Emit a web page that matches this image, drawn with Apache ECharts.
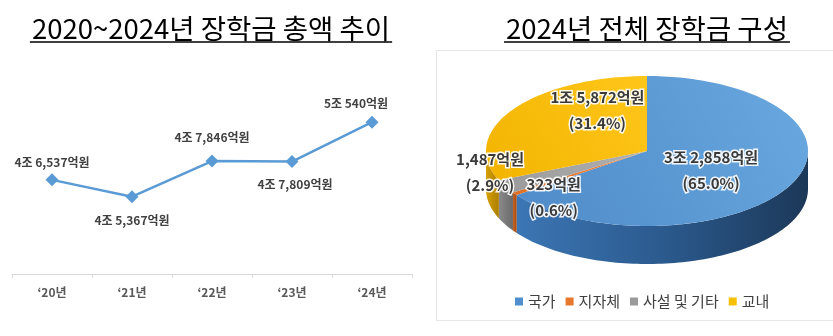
<!DOCTYPE html>
<html>
<head>
<meta charset="utf-8">
<script src="https://cdn.jsdelivr.net/npm/echarts@6/dist/echarts.min.js"></script>
<style>
  html, body { margin: 0; padding: 0; background: #ffffff; }
  #chart { width: 833px; height: 336px; }
</style>
</head>
<body>
<div id="chart"></div>
<script>
// ---- data (amounts in 억원) ----
const years = ['‘20년', '‘21년', '‘22년', '‘23년', '‘24년'];
const totals = [46537, 45367, 47846, 47809, 50540];

const sources = ['국가', '지자체', '사설 및 기타', '교내'];
const sourceAmounts = [32858, 323, 1487, 15872];

// ---- styling ----
const FONT = "'Noto Sans CJK KR', 'Noto Sans', sans-serif";
const lineLabelPos = ['top', 'bottom', 'top', 'bottom', 'top'];
const lineLabelDist = [5, 11, 11, 10, 6];
const lineLabelShift = [[0, 0], [0, 0], [0, 0], [3, 0], [-16, 0]];

const topColors = [
  ['#6AA8E0', '#4E8BC8'],
  ['#F08A44', '#E06F22'],
  ['#B0B0B0', '#9A9A9A'],
  ['#FFC61A', '#F2B400']
];
const sideColors = [
  ['#3C76B4', '#2B5A8E', '#1C3858'],
  ['#C8651F', '#B5561A', '#A04A14'],
  ['#8A8A8A', '#7A7A7A', '#6A6A6A'],
  ['#D6A000', '#C28F00', '#AE7F00']
];
const legendColors = ['#4F8FCF', '#E8772E', '#9A9A9A', '#F5C000'];
// label placement around each slice: pixel nudge from the mid-angle anchor
const pieLabelShift = [[-22, -1], [-14, 21], [-72, 0], [31, -16]];

// pie geometry (tilted disc)
const CX = 647, CY = 151, RX = 161, RY = 75, DEPTH = 38;

// ---- helpers ----
function fmtAmount(v) {
  const jo = Math.floor(v / 10000);
  const rest = v % 10000;
  const restTxt = rest.toLocaleString('en-US');
  return jo > 0 ? jo + '조 ' + restTxt + '억원' : restTxt + '억원';
}

function ellPt(theta, dy) {
  const t = theta * Math.PI / 180;
  return [CX + RX * Math.sin(t), CY - RY * Math.cos(t) + (dy || 0)];
}
function arcPts(a0, a1, dy) {
  const pts = [];
  const n = Math.max(2, Math.ceil((a1 - a0) / 1.5));
  for (let k = 0; k <= n; k++) pts.push(ellPt(a0 + (a1 - a0) * k / n, dy));
  return pts;
}

const totalAmount = sourceAmounts.reduce((a, b) => a + b, 0);
const startFrac = [];
sourceAmounts.reduce((acc, v, i) => { startFrac[i] = acc; return acc + v; }, 0);

function sliceSeries(i) {
  return {
    type: 'custom',
    name: sources[i],
    coordinateSystem: 'none',
    silent: true,
    itemStyle: { color: legendColors[i] },
    data: [[sourceAmounts[i]]],
    renderItem: function (params, api) {
      const v = api.value(0);
      const a0 = startFrac[i] / totalAmount * 360;
      const a1 = a0 + v / totalAmount * 360;
      const children = [];
      // visible side wall (front half of the disc)
      const s0 = Math.max(a0, 90), s1 = Math.min(a1, 270);
      if (s1 > s0) {
        const pts = arcPts(s0, s1, 0).concat(arcPts(s0, s1, DEPTH).reverse());
        children.push({
          type: 'polygon', z2: 1,
          shape: { points: pts },
          style: {
            fill: new echarts.graphic.LinearGradient(0, 0, 1, 0, [
              { offset: 0, color: sideColors[i][0] },
              { offset: 0.5, color: sideColors[i][1] },
              { offset: 1, color: sideColors[i][2] }
            ])
          }
        });
      }
      // top face
      const top = [[CX, CY]].concat(arcPts(a0, a1, 0));
      children.push({
        type: 'polygon', z2: 2,
        shape: { points: top },
        style: {
          fill: new echarts.graphic.LinearGradient(1, 0, 0, 1, [
            { offset: 0, color: topColors[i][0] },
            { offset: 1, color: topColors[i][1] }
          ])
        }
      });
      // value label
      const mid = (a0 + a1) / 2;
      const t = mid * Math.PI / 180;
      const lx = CX + 0.6 * RX * Math.sin(t) + pieLabelShift[i][0];
      const ly = CY - 0.6 * RY * Math.cos(t) + pieLabelShift[i][1];
      const pct = (v / totalAmount * 100).toFixed(1) + '%';
      children.push({
        type: 'text', z2: 10,
        style: {
          x: lx, y: ly,
          text: fmtAmount(v) + '\n(' + pct + ')',
          align: 'center', verticalAlign: 'middle',
          fontFamily: FONT, fontSize: 15, fontWeight: 'bold',
          lineHeight: 26,
          fill: '#3A3A3A',
          stroke: 'rgba(255,255,255,0.9)', lineWidth: 3
        }
      });
      return { type: 'group', children: children };
    }
  };
}

// ---- titles with underline ----
const measureCtx = document.createElement('canvas').getContext('2d');
function titleGraphic(text, cx, cy, size) {
  measureCtx.font = size + 'px ' + FONT;
  const w = measureCtx.measureText(text).width;
  return [
    {
      type: 'text',
      style: {
        x: cx, y: cy, text: text, align: 'center', verticalAlign: 'middle',
        fontFamily: FONT, fontSize: size, fill: '#000000'
      }
    },
    {
      type: 'line',
      shape: { x1: cx - w / 2 - 2, y1: 42, x2: cx + w / 2 + 2, y2: 42 },
      style: { stroke: '#000000', lineWidth: 1.6 }
    }
  ];
}

const chart = echarts.init(document.getElementById('chart'), null, { renderer: 'canvas' });

const option = {
  animation: false,
  backgroundColor: '#ffffff',
  grid: { left: 12, right: 421, top: 58, bottom: 62, containLabel: false },
  xAxis: {
    type: 'category',
    data: years,
    boundaryGap: true,
    axisLine: { lineStyle: { color: '#D9D9D9', width: 1 } },
    axisTick: { show: true, length: 4, lineStyle: { color: '#D9D9D9' } },
    axisLabel: { color: '#595959', fontFamily: FONT, fontSize: 12, fontWeight: 'bold', margin: 12 }
  },
  yAxis: {
    type: 'value', min: 40000, max: 55000, show: false,
    splitLine: { show: false }
  },
  legend: {
    data: sources,
    left: 510, top: 289,
    icon: 'rect', itemWidth: 8, itemHeight: 8, itemGap: 10,
    selectedMode: false,
    textStyle: { fontFamily: FONT, fontSize: 15, color: '#404040' }
  },
  graphic: [
    {
      type: 'rect', silent: true,
      shape: { x: 436.5, y: 50.5, width: 410, height: 270 },
      style: { fill: 'none', stroke: '#E6E6E6', lineWidth: 1 }
    }
  ].concat(
    titleGraphic('2020~2024년 장학금 총액 추이', 211, 28.5, 27.5),
    titleGraphic('2024년 전체 장학금 구성', 647, 28.5, 27.5)
  ),
  series: [
    {
      type: 'line',
      name: '장학금 총액',
      data: totals.map((v, i) => ({
        value: v,
        label: { position: lineLabelPos[i], distance: lineLabelDist[i], offset: lineLabelShift[i] }
      })),
      symbol: 'diamond',
      symbolSize: 13,
      lineStyle: { color: '#5B9BD5', width: 2.5 },
      itemStyle: { color: '#5B9BD5' },
      label: {
        show: true,
        fontFamily: FONT, fontSize: 12, fontWeight: 'bold', color: '#404040',
        formatter: p => fmtAmount(p.value)
      }
    }
  ].concat(sources.map((s, i) => sliceSeries(i)))
};

chart.setOption(option);
</script>
</body>
</html>
